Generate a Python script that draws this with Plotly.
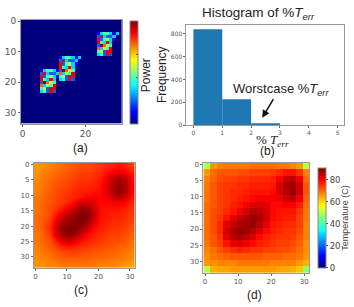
import plotly.graph_objects as go

power_rows = [
"00000000000000000000000000000000",
"00000000000000000000000000000000",
"00000000000000000000000000000000",
"00000000000000000000000000000000",
"00000000000000000000000013443130",
"00000000000000000000000028322300",
"00000000000000000000000082453100",
"00000000000000000000000084383000",
"00000000000000000000000029754000",
"00000000000000000000000073548000",
"00000000000000000000000045288000",
"00000000000000000000000034282000",
"00000000000013443130000000000000",
"00000000000028322300000000000000",
"00000000000082453100000000000000",
"00000000000084383000000000000000",
"00000013443129754000000000000000",
"00000028322373548000000000000000",
"00000082453145288000000000000000",
"00000084383034282000000000000000",
"00000029754000000000000000000000",
"00000073548000000000000000000000",
"00000045288000000000000000000000",
"00000034282000000000000000000000",
"00000000000000000000000000000000",
"00000000000000000000000000000000",
"00000000000000000000000000000000",
"00000000000000000000000000000000",
"00000000000000000000000000000000",
"00000000000000000000000000000000",
"00000000000000000000000000000000",
"00000000000000000000000000000000",
"00000000000000000000000000000000",
"00000000000000000000000000000000",
]
hist_bins = [0.5, 1.5, 2.5]
hist_counts = [840, 226, 17]
grid_x = [0.5, 2.5, 4.5, 6.5, 8.5, 10.5, 12.5, 14.5, 16.5, 18.5, 20.5, 22.5, 24.5, 26.5, 28.5, 30.5]
grid_y = [0.5, 2.5, 4.5, 6.5, 8.5, 10.5, 12.5, 14.5, 16.5, 18.5, 20.5, 22.5, 24.5, 26.5, 28.5, 30.5, 32.5]
temp_c = [
[66,67,68,69,70,71,72,73,73,74,75,76,77,78,77,74],
[67,68,69,70,71,72,73,74,74,75,76,78,80,81,80,77],
[67,69,70,71,72,73,74,75,75,76,77,80,85,87,85,79],
[68,69,71,72,73,74,75,76,76,77,78,82,87,89,87,80],
[68,70,71,73,74,75,76,77,77,78,79,82,87,90,87,80],
[69,70,72,73,74,76,77,78,80,80,79,81,84,86,83,78],
[69,71,72,74,75,77,80,84,84,82,79,79,80,80,79,76],
[69,71,73,75,78,82,86,89,88,84,79,78,78,78,77,75],
[70,71,73,78,83,86,89,91,90,85,79,78,77,77,76,74],
[70,72,75,82,87,89,90,91,88,82,78,77,76,76,75,73],
[70,72,76,84,89,91,91,88,84,79,77,76,75,75,74,72],
[69,71,75,83,88,90,88,84,79,77,76,75,74,74,73,71],
[69,71,73,78,84,85,82,79,77,76,75,74,73,73,72,70],
[68,70,72,74,77,78,77,76,75,74,73,73,72,71,71,69],
[68,69,70,72,73,74,74,73,73,72,72,71,71,70,69,68],
[67,68,69,70,71,71,71,71,71,70,70,70,69,69,68,67],
[67,67,68,68,69,69,69,69,69,69,68,68,68,67,66,65],
]
temp_d = [
[50,66,68,69,69,69,69,70,70,70,70,69,69,68,66,50],
[66,70,72,72,72,73,73,74,74,74,75,76,78,78,75,68],
[68,71,73,74,74,75,75,76,76,76,77,80,84,85,81,70],
[69,72,74,75,75,76,76,77,77,77,78,83,87,88,84,72],
[69,72,74,75,76,76,77,78,78,78,79,83,86,89,84,72],
[69,72,74,75,76,77,78,79,80,80,80,81,84,85,81,71],
[70,72,74,75,77,78,80,83,83,82,79,79,80,80,77,70],
[70,73,74,76,78,81,84,86,85,83,79,78,78,78,75,69],
[70,73,75,78,82,85,87,89,87,84,79,78,77,77,74,69],
[70,73,76,82,85,87,88,89,86,82,78,77,76,76,74,68],
[70,73,76,83,87,89,88,86,83,79,77,76,75,75,73,68],
[70,72,75,82,86,87,85,83,79,77,76,75,75,74,72,68],
[69,72,74,78,82,83,81,79,77,76,75,74,74,73,71,67],
[68,70,72,74,76,77,76,75,75,74,74,73,73,72,70,67],
[67,69,70,71,72,72,72,72,72,71,71,71,70,70,69,66],
[66,67,68,68,68,69,69,69,69,69,68,68,68,68,66,64],
[50,64,65,65,66,66,66,66,66,66,66,65,65,64,62,46],
]
a_y = [0, 10, 20, 30]
a_x = [0, 20]
b_y = [0, 200, 400, 600, 800]
b_x = [0, 1, 2, 3, 4, 5]
cd_y = [0, 5, 10, 15, 20, 25, 30]
cd_x = [0, 10, 20, 30]
cb_ticks = [0, 20, 40, 60, 80]

W, H = 354, 307
def dom(p0, p1, size):
    return [p0 / size, p1 / size]
def ydom(top, bot):
    return [1 - bot / H, 1 - top / H]

jet = [[0, "#00007f"], [0.11, "#0000ff"], [0.125, "#0000ff"], [0.375, "#00ffff"], [0.5, "#7fff7f"],
       [0.625, "#ffff00"], [0.875, "#ff0000"], [1, "#7f0000"]]
power = [[int(ch) for ch in r] for r in power_rows]
TICK = dict(family="DejaVu Sans", size=7, color="#555555")
AX = dict(showgrid=False, zeroline=False, showline=True, linecolor="#999999", mirror=True, linewidth=1,
          ticks="outside", ticklen=2, tickcolor="#666666", tickfont=TICK)

fig = go.Figure()
fig.add_trace(go.Heatmap(z=power, zmin=0, zmax=9, colorscale=jet, xaxis="x", yaxis="y",
    colorbar=dict(x=129/W, xanchor="left", y=1-123/H, yanchor="bottom", len=105/H, lenmode="fraction",
                  thickness=8, thicknessmode="pixels", showticklabels=False, ticks="inside", ticklen=2,
                  tickcolor="#555555", dtick=2, outlinecolor="#888888", outlinewidth=1, xpad=0, ypad=0)))
fig.add_trace(go.Bar(x=hist_bins, y=hist_counts, width=1, marker=dict(color="#1f77b4", line=dict(width=0)),
    xaxis="x2", yaxis="y2", showlegend=False))
fig.add_trace(go.Heatmap(x=grid_x, y=grid_y, z=temp_c, zmin=0, zmax=91, colorscale=jet, zsmooth="best",
    showscale=False, xaxis="x3", yaxis="y3"))
fig.add_trace(go.Heatmap(x=grid_x, y=grid_y, z=temp_d, zmin=0, zmax=91, colorscale=jet, xaxis="x4", yaxis="y4",
    colorbar=dict(x=318/W, xanchor="left", y=1-270/H, yanchor="bottom", len=102/H, lenmode="fraction",
                  thickness=8, thicknessmode="pixels", tickvals=cb_ticks, ticks="outside", ticklen=2,
                  tickfont=dict(family="DejaVu Sans", size=8.5, color="#444444"),
                  outlinecolor="#888888", outlinewidth=1, xpad=0, ypad=0)))

fig.update_layout(
    width=W, height=H, margin=dict(l=0, r=0, t=0, b=0), paper_bgcolor="white", plot_bgcolor="white",
    showlegend=False,
    xaxis=dict(AX, domain=dom(20, 121, W), range=[-0.5, 31.5], tickvals=a_x, tickfont=dict(TICK, size=9)),
    yaxis=dict(AX, domain=ydom(17, 123), range=[33.5, -0.5], tickvals=a_y, tickfont=dict(TICK, size=9)),
    xaxis2=dict(AX, domain=dom(186, 344, W), range=[-0.24, 5.22], tickvals=b_x, anchor="y2", tickfont=dict(TICK, size=6)),
    yaxis2=dict(AX, domain=ydom(22, 124.5), range=[0, 882], tickvals=b_y, anchor="x2", tickfont=dict(TICK, size=6)),
    xaxis3=dict(AX, domain=dom(33, 134, W), range=[-0.5, 31.5], tickvals=cd_x, anchor="y3"),
    yaxis3=dict(AX, domain=ydom(163, 270), range=[33.5, -0.5], tickvals=cd_y, anchor="x3"),
    xaxis4=dict(AX, domain=dom(203, 309, W), range=[-0.5, 31.5], tickvals=cd_x, anchor="y4"),
    yaxis4=dict(AX, domain=ydom(163, 275), range=[33.5, -0.5], tickvals=cd_y, anchor="x4"),
)

def label(text, px, py, size=12, angle=0, family="Liberation Sans", color="#222222"):
    fig.add_annotation(text=text, x=px/W, y=1-py/H, xref="paper", yref="paper", showarrow=False,
                       font=dict(family=family, size=size, color=color), textangle=angle,
                       xanchor="center", yanchor="middle")

TERR = "%<i>T</i><sub><i>err</i></sub>"
label("(a)", 80, 148, 12)
label("(b)", 267, 151, 12)
label("(c)", 80, 293, 12)
label("(d)", 254, 298, 12)
label("Power", 145, 74, 12, -90)
label("Frequency", 161, 73, 12, -90)
label("Temperature (C)", 345, 219, 9, -90, color="#444444")
label("Histogram of " + TERR, 258, 11, 13.5)
label("Worstcase " + TERR, 281, 88, 13)
label("% <i>T</i><sub><i>err</i></sub>", 272, 140, 13, family="Liberation Serif")
fig.add_annotation(x=262/W, y=1-117/H, ax=12, ay=-20, xref="paper", yref="paper",
                   showarrow=True, arrowhead=2, arrowsize=1, arrowwidth=1.5, arrowcolor="#111111", text="")

fig.write_html("out.html", post_script="document.body.style.margin='0';", config=dict(displayModeBar=False))
